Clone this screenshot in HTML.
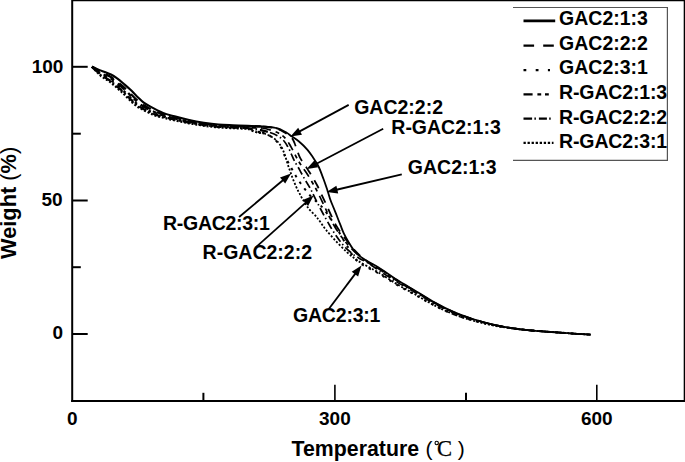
<!DOCTYPE html>
<html><head><meta charset="utf-8"><style>
html,body{margin:0;padding:0;background:#fff;}
svg{display:block;}
</style></head><body>
<svg width="685" height="462" viewBox="0 0 685 462">
<rect width="685" height="462" fill="#fff"/>
<line x1="72.2" y1="0" x2="72.2" y2="402" stroke="#000" stroke-width="2"/><line x1="71.2" y1="401" x2="685" y2="401" stroke="#000" stroke-width="2"/><line x1="72" y1="0.5" x2="685" y2="0.5" stroke="#000" stroke-width="1.6"/><line x1="684.4" y1="0" x2="684.4" y2="402" stroke="#000" stroke-width="1.4"/><line x1="72" y1="66.8" x2="87.7" y2="66.8" stroke="#000" stroke-width="2"/><line x1="72" y1="200.5" x2="87.7" y2="200.5" stroke="#000" stroke-width="2"/><line x1="72" y1="334.0" x2="87.7" y2="334.0" stroke="#000" stroke-width="2"/><line x1="72" y1="133.7" x2="80.8" y2="133.7" stroke="#000" stroke-width="2"/><line x1="72" y1="267.2" x2="80.8" y2="267.2" stroke="#000" stroke-width="2"/><line x1="334.9" y1="401" x2="334.9" y2="384.7" stroke="#000" stroke-width="1.6"/><line x1="596.8" y1="401" x2="596.8" y2="384.7" stroke="#000" stroke-width="1.6"/><line x1="203.4" y1="401" x2="203.4" y2="392.8" stroke="#000" stroke-width="2"/><line x1="466.0" y1="401" x2="466.0" y2="392.8" stroke="#000" stroke-width="2"/>
<text x="63.4" y="72.5" style="font-family:'Liberation Sans',sans-serif;font-weight:bold;font-size:19.0px;text-anchor:end;">100</text><text x="62.7" y="206.0" style="font-family:'Liberation Sans',sans-serif;font-weight:bold;font-size:19.0px;text-anchor:end;">50</text><text x="63.2" y="339.4" style="font-family:'Liberation Sans',sans-serif;font-weight:bold;font-size:19.0px;text-anchor:end;">0</text><text x="72.4" y="425.0" style="font-family:'Liberation Sans',sans-serif;font-weight:bold;font-size:19.0px;text-anchor:middle;">0</text><text x="334.9" y="425.0" style="font-family:'Liberation Sans',sans-serif;font-weight:bold;font-size:19.0px;text-anchor:middle;">300</text><text x="596.8" y="425.0" style="font-family:'Liberation Sans',sans-serif;font-weight:bold;font-size:19.0px;text-anchor:middle;">600</text>
<text x="291.6" y="456.4" style="font-family:'Liberation Sans',sans-serif;font-weight:bold;font-size:21.3px;text-anchor:start;">Temperature</text><text x="425.5" y="456.4" style="font-family:'Liberation Sans',sans-serif;font-size:21px">(</text><circle cx="436.7" cy="443" r="1.7" fill="none" stroke="#000" stroke-width="1.1"/><text x="437" y="456.4" style="font-family:'Liberation Serif',serif;font-size:22.6px;stroke:#000;stroke-width:0.25">C</text><text x="457.8" y="456.4" style="font-family:'Liberation Sans',sans-serif;font-size:21px">)</text><text transform="translate(16.3,259) rotate(-90)" x="0" y="0" style="font-family:'Liberation Sans',sans-serif;font-weight:bold;font-size:21.8px">Weight <tspan style="font-weight:normal">(</tspan>%<tspan style="font-weight:normal">)</tspan></text>
<path d="M513,7.5 H667.4 V160.3 H513" fill="none" stroke="#555" stroke-width="1.2"/><line x1="523.5" y1="20.9" x2="555.2" y2="20.9" style="stroke:#000;stroke-width:2.6"/><text x="559.1" y="25.1" style="font-family:'Liberation Sans',sans-serif;font-weight:bold;font-size:19.5px;text-anchor:start;">GAC2:1:3</text><line x1="523.5" y1="45.6" x2="553.8" y2="45.6" style="stroke:#000;stroke-width:2.2;stroke-dasharray:10.6 9.1"/><text x="559.1" y="49.8" style="font-family:'Liberation Sans',sans-serif;font-weight:bold;font-size:19.5px;text-anchor:start;">GAC2:2:2</text><line x1="523.5" y1="70.2" x2="550.0" y2="70.2" style="stroke:#000;stroke-width:2.2;stroke-dasharray:2.8 9.4"/><text x="559.1" y="74.4" style="font-family:'Liberation Sans',sans-serif;font-weight:bold;font-size:19.5px;text-anchor:start;">GAC2:3:1</text><line x1="523.5" y1="94.4" x2="549.3" y2="94.4" style="stroke:#000;stroke-width:2.2;stroke-dasharray:9.1 4.8 3.8 3.8 3.8 5"/><text x="559.1" y="98.6" style="font-family:'Liberation Sans',sans-serif;font-weight:bold;font-size:19.5px;text-anchor:start;letter-spacing:-0.15px">R-GAC2:1:3</text><line x1="523.5" y1="118.6" x2="551.8" y2="118.6" style="stroke:#000;stroke-width:2.2;stroke-dasharray:8.6 2.3 1.5 3 8 2.3 1.5"/><text x="559.1" y="123.6" style="font-family:'Liberation Sans',sans-serif;font-weight:bold;font-size:19.5px;text-anchor:start;letter-spacing:-0.15px">R-GAC2:2:2</text><line x1="523.5" y1="142.8" x2="553.5" y2="142.8" style="stroke:#000;stroke-width:2.2;stroke-dasharray:2.3 1.75"/><text x="559.1" y="148.0" style="font-family:'Liberation Sans',sans-serif;font-weight:bold;font-size:19.5px;text-anchor:start;letter-spacing:-0.15px">R-GAC2:3:1</text>
<path d="M92.0,66.7 C92.5,67.2 94.0,68.9 95.0,70.0 C96.0,71.1 97.0,72.0 98.0,73.0 C99.0,74.0 100.0,75.2 101.0,76.0 C102.0,76.8 103.0,77.4 104.0,78.0 C105.0,78.7 106.0,79.3 107.0,79.9 C108.0,80.6 109.0,81.2 110.0,81.9 C111.0,82.7 112.0,83.6 113.0,84.4 C114.0,85.2 115.0,86.0 116.0,86.9 C117.0,87.8 118.0,88.7 119.0,89.6 C120.0,90.5 121.0,91.3 122.0,92.3 C123.0,93.2 124.0,94.2 125.0,95.2 C126.0,96.2 127.0,97.3 128.0,98.3 C129.0,99.3 130.0,100.2 131.0,101.2 C132.0,102.1 133.0,103.1 134.0,104.0 C135.0,104.8 136.0,105.6 137.0,106.3 C138.0,107.0 139.0,107.5 140.0,108.1 C141.0,108.7 142.0,109.3 143.0,109.8 C144.0,110.3 145.0,110.8 146.0,111.3 C147.0,111.8 148.0,112.3 149.0,112.8 C150.0,113.3 151.0,113.7 152.0,114.1 C153.0,114.6 154.0,115.0 155.0,115.4 C156.0,115.8 157.0,116.0 158.0,116.3 C159.0,116.6 160.0,116.8 161.0,117.0 C162.0,117.3 163.0,117.5 164.0,117.8 C165.0,118.0 166.0,118.3 167.0,118.5 C168.0,118.8 169.0,119.0 170.0,119.3 C171.0,119.5 172.0,119.7 173.0,119.9 C174.0,120.1 175.0,120.3 176.0,120.5 C177.0,120.7 178.0,121.0 179.0,121.2 C180.0,121.4 181.0,121.6 182.0,121.8 C183.0,122.0 184.0,122.2 185.0,122.4 C186.0,122.6 187.0,122.9 188.0,123.0 C189.0,123.2 190.0,123.4 191.0,123.5 C192.0,123.7 193.0,123.8 194.0,124.0 C195.0,124.2 196.0,124.3 197.0,124.5 C198.0,124.6 199.0,124.8 200.0,125.0 C201.0,125.1 202.0,125.4 203.0,125.5 C204.0,125.7 205.0,125.8 206.0,126.0 C207.0,126.1 208.0,126.2 209.0,126.3 C210.0,126.4 211.0,126.5 212.0,126.7 C213.0,126.8 214.0,126.9 215.0,127.0 C216.0,127.1 217.0,127.3 218.0,127.4 C219.0,127.4 220.0,127.5 221.0,127.5 C222.0,127.6 223.0,127.6 224.0,127.7 C225.0,127.7 226.0,127.8 227.0,127.8 C228.0,127.9 229.0,127.9 230.0,128.0 C231.0,128.0 232.0,128.1 233.0,128.1 C234.0,128.1 235.0,128.2 236.0,128.2 C237.0,128.3 238.0,128.3 239.0,128.4 C240.0,128.4 241.0,128.5 242.0,128.5 C243.0,128.6 244.0,128.6 245.0,128.7 C246.0,128.7 246.2,128.3 248.0,128.8 C249.8,129.4 253.3,131.2 256.0,132.0 C258.7,132.8 261.5,132.8 264.0,133.5" style="fill:none;stroke:#000;stroke-width:2.2;stroke-dasharray:2 1.8;stroke-width:2.3"/>
<path d="M264.0,133.5 C266.5,134.2 268.8,135.2 271.0,136.5 C273.2,137.8 275.7,139.6 277.5,141.5 C279.3,143.4 280.7,145.6 282.0,148.0 C283.3,150.4 284.3,153.3 285.2,156.0 C286.1,158.7 286.8,161.5 287.6,164.1 C288.5,166.7 289.4,169.1 290.3,171.6 C291.2,174.1 292.0,176.7 293.0,179.2 C294.0,181.7 295.2,184.6 296.2,186.8 C297.2,189.0 297.9,190.5 299.0,192.5 C300.1,194.5 300.8,196.2 302.5,199.0 C304.2,201.8 306.8,206.2 309.0,209.0 C311.2,211.8 313.8,213.7 315.6,215.8 C317.4,217.9 318.3,219.2 320.0,221.5 C321.7,223.8 323.3,226.6 326.0,229.9 C328.7,233.2 332.9,237.9 336.4,241.6 C339.9,245.3 343.5,249.0 346.8,252.0 C350.1,255.0 352.8,257.2 356.0,259.5 C359.2,261.8 362.2,263.3 366.0,265.5 C369.8,267.7 373.4,269.5 378.6,272.6 C383.8,275.7 390.8,280.5 397.0,284.2 C403.2,287.9 409.7,291.3 416.0,294.9 C422.3,298.5 428.6,302.4 434.9,305.6 C441.2,308.9 447.6,311.9 453.9,314.4 C460.2,316.9 466.5,318.8 472.8,320.6 C479.1,322.4 485.5,324.0 491.8,325.2 C498.1,326.5 504.5,327.4 510.8,328.2 C517.1,329.1 523.5,329.7 529.8,330.3 C536.1,330.9 542.4,331.3 548.7,331.8 C555.0,332.3 560.7,332.7 567.7,333.2 C574.7,333.7 586.7,334.4 590.5,334.6" style="fill:none;stroke:#000;stroke-width:2.2;stroke-dasharray:2 1.8;stroke-width:1.8"/>
<path d="M92.0,66.7 C92.5,67.2 94.0,68.6 95.0,69.5 C96.0,70.3 97.0,71.2 98.0,72.0 C99.0,72.9 100.0,73.8 101.0,74.5 C102.0,75.2 103.0,75.6 104.0,76.1 C105.0,76.7 106.0,77.2 107.0,77.8 C108.0,78.4 109.0,79.0 110.0,79.7 C111.0,80.3 112.0,81.1 113.0,81.8 C114.0,82.6 115.0,83.5 116.0,84.3 C117.0,85.2 118.0,86.0 119.0,86.9 C120.0,87.8 121.0,88.7 122.0,89.6 C123.0,90.5 124.0,91.3 125.0,92.3 C126.0,93.3 127.0,94.3 128.0,95.4 C129.0,96.4 130.0,97.4 131.0,98.4 C132.0,99.4 133.0,100.3 134.0,101.2 C135.0,102.2 136.0,103.2 137.0,104.0 C138.0,104.8 139.0,105.3 140.0,106.0 C141.0,106.6 142.0,107.2 143.0,107.8 C144.0,108.4 145.0,108.9 146.0,109.4 C147.0,109.9 148.0,110.4 149.0,110.9 C150.0,111.4 151.0,111.8 152.0,112.3 C153.0,112.7 154.0,113.2 155.0,113.6 C156.0,114.0 157.0,114.6 158.0,114.9 C159.0,115.3 160.0,115.4 161.0,115.7 C162.0,115.9 163.0,116.2 164.0,116.5 C165.0,116.7 166.0,117.0 167.0,117.2 C168.0,117.5 169.0,117.8 170.0,118.0 C171.0,118.3 172.0,118.5 173.0,118.7 C174.0,118.9 175.0,119.2 176.0,119.4 C177.0,119.6 178.0,119.8 179.0,120.1 C180.0,120.3 181.0,120.5 182.0,120.7 C183.0,120.9 184.0,121.2 185.0,121.4 C186.0,121.6 187.0,121.9 188.0,122.0 C189.0,122.2 190.0,122.4 191.0,122.6 C192.0,122.7 193.0,122.9 194.0,123.1 C195.0,123.2 196.0,123.4 197.0,123.6 C198.0,123.7 199.0,123.9 200.0,124.1 C201.0,124.3 202.0,124.5 203.0,124.6 C204.0,124.8 205.0,124.9 206.0,125.1 C207.0,125.2 208.0,125.3 209.0,125.4 C210.0,125.5 211.0,125.6 212.0,125.8 C213.0,125.9 214.0,126.0 215.0,126.1 C216.0,126.2 217.0,126.4 218.0,126.5 C219.0,126.5 220.0,126.6 221.0,126.6 C222.0,126.7 223.0,126.7 224.0,126.8 C225.0,126.8 226.0,126.9 227.0,126.9 C228.0,127.0 229.0,127.0 230.0,127.1 C231.0,127.1 232.0,127.2 233.0,127.2 C234.0,127.2 235.0,127.3 236.0,127.3 C237.0,127.4 238.0,127.4 239.0,127.5 C240.0,127.5 241.0,127.6 242.0,127.6 C243.0,127.7 244.0,127.7 245.0,127.8 C246.0,127.8 246.2,127.3 248.0,127.9 C249.8,128.5 253.7,130.7 256.0,131.5 C258.3,132.3 260.0,132.0 262.0,132.5" style="fill:none;stroke:#000;stroke-width:2.3;stroke-dasharray:2.5 5.5;stroke-width:2.4"/>
<path d="M262.0,132.5 C264.0,133.0 265.8,133.2 268.0,134.5 C270.2,135.8 273.3,138.1 275.5,140.3 C277.7,142.5 279.7,145.2 281.2,147.8 C282.7,150.4 283.5,153.2 284.7,155.7 C285.9,158.2 287.1,160.4 288.5,163.0 C289.9,165.6 291.4,168.2 293.0,171.0 C294.6,173.8 296.2,176.7 298.0,179.5 C299.8,182.3 301.9,185.2 304.0,188.0 C306.1,190.8 308.4,193.7 310.5,196.0 C312.6,198.3 314.8,199.9 316.9,202.0 C319.0,204.1 321.0,205.6 323.4,208.5 C325.8,211.4 329.0,216.4 331.2,219.5 C333.4,222.6 334.4,224.1 336.4,227.3 C338.3,230.6 340.9,235.6 342.9,239.0 C344.9,242.4 346.6,244.9 348.5,248.0 C350.4,251.1 351.8,254.8 354.0,257.5 C356.2,260.2 357.9,261.8 362.0,264.5 C366.1,267.2 372.8,270.0 378.6,273.4 C384.4,276.8 390.8,281.2 397.0,284.9 C403.2,288.5 409.7,291.8 416.0,295.3 C422.3,298.8 428.6,302.7 434.9,305.8 C441.2,309.0 447.6,312.0 453.9,314.4 C460.2,316.8 466.5,318.7 472.8,320.4 C479.1,322.1 485.5,323.5 491.8,324.8 C498.1,326.1 504.5,327.1 510.8,328.0 C517.1,328.9 523.5,329.7 529.8,330.3 C536.1,330.9 542.4,331.3 548.7,331.8 C555.0,332.3 560.7,332.7 567.7,333.2 C574.7,333.7 586.7,334.4 590.5,334.6" style="fill:none;stroke:#000;stroke-width:2.3;stroke-dasharray:2.5 5.5;stroke-width:2.0"/>
<path d="M92.0,66.7 C92.5,67.2 94.0,68.7 95.0,69.7 C96.0,70.6 97.0,71.5 98.0,72.4 C99.0,73.3 100.0,74.4 101.0,75.1 C102.0,75.8 103.0,76.2 104.0,76.8 C105.0,77.4 106.0,78.1 107.0,78.7 C108.0,79.3 109.0,79.9 110.0,80.6 C111.0,81.3 112.0,82.2 113.0,83.0 C114.0,83.8 115.0,84.6 116.0,85.5 C117.0,86.3 118.0,87.2 119.0,88.1 C120.0,89.0 121.0,89.8 122.0,90.8 C123.0,91.7 124.0,92.6 125.0,93.6 C126.0,94.6 127.0,95.7 128.0,96.7 C129.0,97.7 130.0,98.7 131.0,99.6 C132.0,100.6 133.0,101.5 134.0,102.5 C135.0,103.4 136.0,104.3 137.0,105.1 C138.0,105.8 139.0,106.3 140.0,106.9 C141.0,107.5 142.0,108.1 143.0,108.7 C144.0,109.3 145.0,109.7 146.0,110.2 C147.0,110.7 148.0,111.2 149.0,111.7 C150.0,112.2 151.0,112.6 152.0,113.1 C153.0,113.5 154.0,114.0 155.0,114.4 C156.0,114.7 157.0,115.1 158.0,115.5 C159.0,115.8 160.0,116.0 161.0,116.2 C162.0,116.5 163.0,116.7 164.0,117.0 C165.0,117.2 166.0,117.5 167.0,117.7 C168.0,118.0 169.0,118.2 170.0,118.5 C171.0,118.7 172.0,118.9 173.0,119.2 C174.0,119.4 175.0,119.6 176.0,119.8 C177.0,120.0 178.0,120.2 179.0,120.5 C180.0,120.7 181.0,120.9 182.0,121.1 C183.0,121.3 184.0,121.6 185.0,121.8 C186.0,122.0 187.0,122.2 188.0,122.4 C189.0,122.6 190.0,122.7 191.0,122.9 C192.0,123.1 193.0,123.2 194.0,123.4 C195.0,123.5 196.0,123.7 197.0,123.9 C198.0,124.0 199.0,124.2 200.0,124.4 C201.0,124.5 202.0,124.8 203.0,124.9 C204.0,125.1 205.0,125.2 206.0,125.4 C207.0,125.5 208.0,125.6 209.0,125.7 C210.0,125.8 211.0,125.9 212.0,126.1 C213.0,126.2 214.0,126.3 215.0,126.4 C216.0,126.5 217.0,126.7 218.0,126.8 C219.0,126.8 220.0,126.9 221.0,126.9 C222.0,127.0 223.0,127.0 224.0,127.1 C225.0,127.1 226.0,127.2 227.0,127.2 C228.0,127.3 229.0,127.3 230.0,127.4 C231.0,127.4 232.0,127.5 233.0,127.5 C234.0,127.5 235.0,127.6 236.0,127.6 C237.0,127.7 238.0,127.7 239.0,127.8 C240.0,127.8 241.0,127.9 242.0,127.9 C243.0,128.0 244.0,128.0 245.0,128.1 C246.0,128.1 245.5,127.9 248.0,128.2 C250.5,128.5 256.3,129.3 260.0,130.0 C263.7,130.7 267.0,131.5 270.0,132.5" style="fill:none;stroke:#000;stroke-width:2.2;stroke-dasharray:8 3 1.5 3;stroke-width:2.3"/>
<path d="M270.0,132.5 C273.0,133.5 275.7,134.6 278.0,136.0 C280.3,137.4 282.2,139.0 284.0,141.0 C285.8,143.0 287.2,145.8 288.5,148.0 C289.8,150.2 290.5,152.3 291.5,154.5 C292.5,156.7 293.1,158.3 294.5,161.0 C295.9,163.7 298.3,167.5 300.0,170.6 C301.7,173.7 303.4,177.0 304.9,179.5 C306.3,182.0 307.6,183.8 308.7,185.7 C309.8,187.5 310.5,188.9 311.4,190.6 C312.3,192.3 312.9,193.8 314.0,196.0 C315.1,198.2 316.4,200.9 318.0,204.0 C319.6,207.1 321.5,210.8 323.5,214.5 C325.5,218.2 327.8,222.2 330.0,226.0 C332.2,229.8 334.7,233.7 337.0,237.0 C339.3,240.3 341.6,243.3 344.0,246.0 C346.4,248.7 348.9,250.9 351.5,253.0 C354.1,255.1 356.8,256.8 359.5,258.5 C362.2,260.2 364.8,261.0 368.0,263.0 C371.2,265.0 373.8,267.0 378.6,270.2 C383.4,273.4 390.8,278.3 397.0,282.1 C403.2,285.8 409.7,289.3 416.0,293.0 C422.3,296.6 428.6,300.6 434.9,303.9 C441.2,307.2 447.6,310.4 453.9,312.9 C460.2,315.5 466.5,317.5 472.8,319.4 C479.1,321.3 485.5,322.9 491.8,324.3 C498.1,325.7 504.5,327.0 510.8,328.0 C517.1,329.0 523.5,329.7 529.8,330.3 C536.1,330.9 542.4,331.3 548.7,331.8 C555.0,332.3 560.7,332.7 567.7,333.2 C574.7,333.7 586.7,334.4 590.5,334.6" style="fill:none;stroke:#000;stroke-width:2.2;stroke-dasharray:8 3 1.5 3;stroke-width:1.7"/>
<path d="M92.0,66.7 C92.5,67.1 94.0,68.3 95.0,69.0 C96.0,69.8 97.0,70.5 98.0,71.2 C99.0,72.0 100.0,72.7 101.0,73.3 C102.0,73.9 103.0,74.4 104.0,74.8 C105.0,75.3 106.0,75.5 107.0,76.0 C108.0,76.5 109.0,77.3 110.0,77.9 C111.0,78.5 112.0,79.1 113.0,79.8 C114.0,80.5 115.0,81.4 116.0,82.2 C117.0,83.0 118.0,83.8 119.0,84.7 C120.0,85.5 121.0,86.4 122.0,87.3 C123.0,88.2 124.0,89.0 125.0,90.0 C126.0,90.9 127.0,91.8 128.0,92.8 C129.0,93.8 130.0,94.9 131.0,95.9 C132.0,96.9 133.0,97.9 134.0,98.8 C135.0,99.8 136.0,100.7 137.0,101.7 C138.0,102.6 139.0,103.5 140.0,104.3 C141.0,105.0 142.0,105.5 143.0,106.1 C144.0,106.7 145.0,107.3 146.0,107.9 C147.0,108.5 148.0,108.9 149.0,109.4 C150.0,109.9 151.0,110.4 152.0,110.8 C153.0,111.3 154.0,111.7 155.0,112.2 C156.0,112.7 157.0,113.2 158.0,113.6 C159.0,114.0 160.0,114.4 161.0,114.7 C162.0,115.1 163.0,115.3 164.0,115.5 C165.0,115.8 166.0,116.1 167.0,116.3 C168.0,116.6 169.0,116.9 170.0,117.2 C171.0,117.4 172.0,117.7 173.0,117.9 C174.0,118.2 175.0,118.4 176.0,118.6 C177.0,118.9 178.0,119.1 179.0,119.3 C180.0,119.6 181.0,119.8 182.0,120.0 C183.0,120.3 184.0,120.5 185.0,120.7 C186.0,121.0 187.0,121.2 188.0,121.4 C189.0,121.6 190.0,121.8 191.0,122.0 C192.0,122.2 193.0,122.3 194.0,122.5 C195.0,122.7 196.0,122.9 197.0,123.0 C198.0,123.2 199.0,123.4 200.0,123.6 C201.0,123.8 202.0,124.0 203.0,124.1 C204.0,124.3 205.0,124.4 206.0,124.6 C207.0,124.7 208.0,124.8 209.0,124.9 C210.0,125.0 211.0,125.1 212.0,125.3 C213.0,125.4 214.0,125.5 215.0,125.6 C216.0,125.7 217.0,125.9 218.0,126.0 C219.0,126.0 220.0,126.1 221.0,126.1 C222.0,126.2 223.0,126.2 224.0,126.3 C225.0,126.3 226.0,126.4 227.0,126.4 C228.0,126.5 229.0,126.5 230.0,126.6 C231.0,126.6 232.0,126.7 233.0,126.7 C234.0,126.7 235.0,126.8 236.0,126.8 C237.0,126.9 238.0,126.9 239.0,127.0 C240.0,127.0 241.0,127.1 242.0,127.1 C243.0,127.2 244.0,127.2 245.0,127.3 C246.0,127.3 245.2,127.3 248.0,127.4 C250.8,127.5 258.0,127.5 262.0,128.0" style="fill:none;stroke:#000;stroke-width:2.2;stroke-dasharray:9 5 4 4 4 5;stroke-width:2.3"/>
<path d="M262.0,128.0 C266.0,128.5 269.0,129.5 272.0,130.5 C275.0,131.5 277.7,132.6 280.0,134.0 C282.3,135.4 284.2,137.0 286.0,139.0 C287.8,141.0 289.1,143.6 290.5,146.0 C291.9,148.4 293.2,151.0 294.5,153.5 C295.8,156.0 297.1,158.6 298.5,161.0 C299.9,163.4 301.5,165.8 303.0,168.0 C304.5,170.2 306.0,172.2 307.5,174.5 C309.0,176.8 310.6,179.6 312.0,182.0 C313.4,184.4 314.7,186.5 316.0,189.0 C317.3,191.5 318.6,194.1 320.0,197.0 C321.4,199.9 322.9,203.2 324.5,206.5 C326.1,209.8 327.7,213.4 329.5,217.0 C331.3,220.6 333.4,224.6 335.5,228.0 C337.6,231.4 339.9,234.7 342.0,237.5 C344.1,240.3 345.9,242.7 348.0,245.0 C350.1,247.3 352.3,249.5 354.5,251.5 C356.7,253.5 358.8,255.2 361.0,257.0 C363.2,258.8 365.1,260.5 368.0,262.5 C370.9,264.5 373.8,265.8 378.6,268.9 C383.4,271.9 390.8,277.1 397.0,280.9 C403.2,284.8 409.7,288.4 416.0,292.1 C422.3,295.8 428.6,299.8 434.9,303.3 C441.2,306.7 447.6,309.9 453.9,312.5 C460.2,315.2 466.5,317.2 472.8,319.2 C479.1,321.1 485.5,322.8 491.8,324.3 C498.1,325.8 504.5,327.0 510.8,328.0 C517.1,329.0 523.5,329.7 529.8,330.3 C536.1,330.9 542.4,331.3 548.7,331.8 C555.0,332.3 560.7,332.7 567.7,333.2 C574.7,333.7 586.7,334.4 590.5,334.6" style="fill:none;stroke:#000;stroke-width:2.2;stroke-dasharray:9 5 4 4 4 5;stroke-width:1.7"/>
<path d="M92.0,66.7 C92.5,67.0 94.0,68.0 95.0,68.7 C96.0,69.3 97.0,70.0 98.0,70.6 C99.0,71.2 100.0,71.8 101.0,72.4 C102.0,72.9 103.0,73.3 104.0,73.7 C105.0,74.2 106.0,74.4 107.0,74.9 C108.0,75.4 109.0,76.0 110.0,76.6 C111.0,77.2 112.0,77.8 113.0,78.5 C114.0,79.1 115.0,79.9 116.0,80.6 C117.0,81.4 118.0,82.3 119.0,83.1 C120.0,84.0 121.0,84.8 122.0,85.7 C123.0,86.6 124.0,87.5 125.0,88.4 C126.0,89.3 127.0,90.1 128.0,91.1 C129.0,92.1 130.0,93.1 131.0,94.2 C132.0,95.2 133.0,96.2 134.0,97.2 C135.0,98.2 136.0,99.1 137.0,100.0 C138.0,101.0 139.0,102.0 140.0,102.8 C141.0,103.6 142.0,104.1 143.0,104.8 C144.0,105.4 145.0,106.0 146.0,106.6 C147.0,107.2 148.0,107.7 149.0,108.2 C150.0,108.7 151.0,109.2 152.0,109.6 C153.0,110.1 154.0,110.6 155.0,111.0 C156.0,111.5 157.0,112.0 158.0,112.5 C159.0,112.9 160.0,113.4 161.0,113.8 C162.0,114.2 163.0,114.4 164.0,114.6 C165.0,114.9 166.0,115.2 167.0,115.5 C168.0,115.7 169.0,116.0 170.0,116.3 C171.0,116.6 172.0,116.8 173.0,117.1 C174.0,117.4 175.0,117.6 176.0,117.8 C177.0,118.1 178.0,118.3 179.0,118.5 C180.0,118.8 181.0,119.0 182.0,119.2 C183.0,119.5 184.0,119.7 185.0,120.0 C186.0,120.2 187.0,120.5 188.0,120.7 C189.0,120.9 190.0,121.1 191.0,121.2 C192.0,121.4 193.0,121.6 194.0,121.8 C195.0,122.0 196.0,122.2 197.0,122.3 C198.0,122.5 199.0,122.7 200.0,122.9 C201.0,123.1 202.0,123.3 203.0,123.4 C204.0,123.6 205.0,123.7 206.0,123.9 C207.0,124.0 208.0,124.1 209.0,124.2 C210.0,124.3 211.0,124.4 212.0,124.6 C213.0,124.7 214.0,124.8 215.0,124.9 C216.0,125.0 217.0,125.2 218.0,125.3 C219.0,125.3 220.0,125.4 221.0,125.4 C222.0,125.5 223.0,125.5 224.0,125.6 C225.0,125.6 226.0,125.7 227.0,125.7 C228.0,125.8 229.0,125.8 230.0,125.9 C231.0,125.9 232.0,126.0 233.0,126.0 C234.0,126.0 235.0,126.1 236.0,126.1 C237.0,126.2 238.0,126.2 239.0,126.3 C240.0,126.3 241.0,126.4 242.0,126.4 C243.0,126.5 244.0,126.5 245.0,126.6 C246.0,126.6 245.0,126.7 248.0,126.7 C251.0,126.7 258.3,126.2 263.0,126.5" style="fill:none;stroke:#000;stroke-width:2.2;stroke-dasharray:9 7;stroke-width:2.3"/>
<path d="M263.0,126.5 C267.7,126.8 272.3,127.5 276.0,128.5 C279.7,129.6 282.4,131.3 285.0,132.8 C287.6,134.3 289.9,135.8 291.5,137.5 C293.1,139.2 293.6,140.9 294.5,143.0 C295.4,145.1 296.1,147.6 297.0,150.0 C297.9,152.4 298.7,155.2 300.0,157.7 C301.3,160.2 303.4,162.9 304.9,165.2 C306.4,167.5 307.6,169.4 309.0,171.5 C310.4,173.6 311.6,175.6 313.0,178.0 C314.4,180.4 316.1,183.2 317.5,186.0 C318.9,188.8 320.1,191.5 321.5,194.5 C322.9,197.5 324.5,200.8 326.0,204.0 C327.5,207.2 328.8,210.3 330.5,214.0 C332.2,217.7 334.3,222.4 336.4,226.0 C338.5,229.6 340.9,232.7 342.9,235.5 C344.9,238.3 346.6,240.6 348.5,243.0 C350.4,245.4 352.4,247.8 354.5,250.0 C356.6,252.2 358.8,254.5 361.0,256.5 C363.2,258.5 365.1,260.1 368.0,262.0 C370.9,263.9 373.8,264.9 378.6,268.0 C383.4,271.0 390.8,276.3 397.0,280.2 C403.2,284.1 409.7,287.7 416.0,291.5 C422.3,295.3 428.6,299.4 434.9,302.8 C441.2,306.3 447.6,309.5 453.9,312.2 C460.2,314.9 466.5,317.0 472.8,319.1 C479.1,321.1 485.5,322.8 491.8,324.3 C498.1,325.8 504.5,327.0 510.8,328.0 C517.1,329.0 523.5,329.7 529.8,330.3 C536.1,330.9 542.4,331.3 548.7,331.8 C555.0,332.3 560.7,332.7 567.7,333.2 C574.7,333.7 586.7,334.4 590.5,334.6" style="fill:none;stroke:#000;stroke-width:2.2;stroke-dasharray:9 7;stroke-width:1.8"/>
<path d="M92.0,66.7 C93.0,67.2 94.8,68.1 98.0,69.4 C101.2,70.7 107.8,73.0 111.0,74.5 C114.2,76.0 115.3,77.0 117.5,78.6 C119.7,80.2 121.8,82.1 124.0,84.0 C126.2,85.9 128.3,87.7 130.5,89.8 C132.7,91.9 134.8,94.3 137.0,96.4 C139.2,98.5 141.2,100.7 143.4,102.4 C145.6,104.1 146.7,104.7 150.0,106.4 C153.3,108.2 158.9,111.2 163.0,112.9 C167.1,114.6 170.2,115.1 174.6,116.3 C179.0,117.5 184.3,118.9 189.2,120.0 C194.1,121.1 198.9,122.0 203.8,122.8 C208.7,123.5 213.5,124.1 218.4,124.5 C223.3,124.9 228.1,125.0 233.0,125.2 C237.9,125.4 242.6,125.7 247.6,125.9 C252.6,126.1 258.3,126.2 263.0,126.6" style="fill:none;stroke:#000;stroke-width:2;stroke-width:2.1"/>
<path d="M263.0,126.6 C267.7,126.9 272.2,127.0 276.0,128.0 C279.8,128.9 283.3,130.9 286.0,132.3 C288.7,133.7 289.8,135.1 292.0,136.6 C294.2,138.1 296.4,139.3 299.0,141.5 C301.6,143.7 305.2,147.1 307.5,149.8 C309.8,152.5 311.2,154.8 313.0,157.5 C314.8,160.2 316.6,162.4 318.3,166.0 C320.1,169.6 322.0,175.0 323.5,179.0 C325.0,183.0 326.2,186.7 327.3,190.0 C328.4,193.3 329.0,195.8 330.0,198.7 C331.0,201.6 332.2,204.4 333.4,207.3 C334.5,210.2 335.8,213.1 336.9,216.0 C338.0,218.9 339.1,221.8 340.3,224.7 C341.5,227.6 342.4,230.4 343.8,233.3 C345.2,236.2 346.8,239.1 348.5,242.0 C350.2,244.9 352.4,248.4 354.2,250.7 C356.0,253.0 357.2,254.2 359.4,255.9 C361.6,257.6 364.0,259.2 367.2,261.1 C370.4,263.0 373.6,264.4 378.6,267.5 C383.6,270.6 390.8,275.9 397.0,279.8 C403.2,283.8 409.7,287.4 416.0,291.2 C422.3,295.0 428.6,299.1 434.9,302.6 C441.2,306.1 447.6,309.4 453.9,312.1 C460.2,314.8 466.5,317.0 472.8,319.0 C479.1,321.0 485.5,322.8 491.8,324.3 C498.1,325.8 504.5,327.0 510.8,328.0 C517.1,329.0 523.5,329.7 529.8,330.3 C536.1,330.9 542.4,331.3 548.7,331.8 C555.0,332.3 560.7,332.7 567.7,333.2 C574.7,333.7 586.7,334.4 590.5,334.6" style="fill:none;stroke:#000;stroke-width:2;stroke-width:1.8"/>

<line x1="348.7" y1="104.9" x2="298.3" y2="132.1" stroke="#000" stroke-width="1.8"/><polygon points="290.4,136.4 298.2,127.7 302.0,134.7" fill="#000"/><line x1="383.2" y1="128.8" x2="314.6" y2="164.7" stroke="#000" stroke-width="1.8"/><polygon points="306.6,168.9 314.5,160.3 318.2,167.3" fill="#000"/><line x1="401.8" y1="174.3" x2="335.4" y2="190.0" stroke="#000" stroke-width="1.8"/><polygon points="326.6,192.1 336.4,185.7 338.2,193.5" fill="#000"/><line x1="239.1" y1="217.0" x2="284.1" y2="179.2" stroke="#000" stroke-width="1.8"/><polygon points="291.0,173.4 285.2,183.5 280.0,177.4" fill="#000"/><line x1="256.0" y1="247.1" x2="306.9" y2="201.6" stroke="#000" stroke-width="1.8"/><polygon points="313.6,195.6 308.1,205.9 302.7,199.9" fill="#000"/><line x1="329.0" y1="308.7" x2="356.1" y2="272.6" stroke="#000" stroke-width="1.8"/><polygon points="361.5,265.4 358.1,276.6 351.7,271.8" fill="#000"/>
<text x="354.2" y="113.8" style="font-family:'Liberation Sans',sans-serif;font-weight:bold;font-size:19.5px;text-anchor:start;">GAC2:2:2</text><text x="391.3" y="134.0" style="font-family:'Liberation Sans',sans-serif;font-weight:bold;font-size:19.5px;text-anchor:start;">R-GAC2:1:3</text><text x="407.8" y="173.9" style="font-family:'Liberation Sans',sans-serif;font-weight:bold;font-size:19.5px;text-anchor:start;">GAC2:1:3</text><text x="163.0" y="229.6" style="font-family:'Liberation Sans',sans-serif;font-weight:bold;font-size:19.5px;text-anchor:start;letter-spacing:-0.28px">R-GAC2:3:1</text><text x="202.6" y="259.3" style="font-family:'Liberation Sans',sans-serif;font-weight:bold;font-size:19.5px;text-anchor:start;">R-GAC2:2:2</text><text x="293.0" y="321.8" style="font-family:'Liberation Sans',sans-serif;font-weight:bold;font-size:19.5px;text-anchor:start;letter-spacing:-0.2px">GAC2:3:1</text>
</svg>
</body></html>
